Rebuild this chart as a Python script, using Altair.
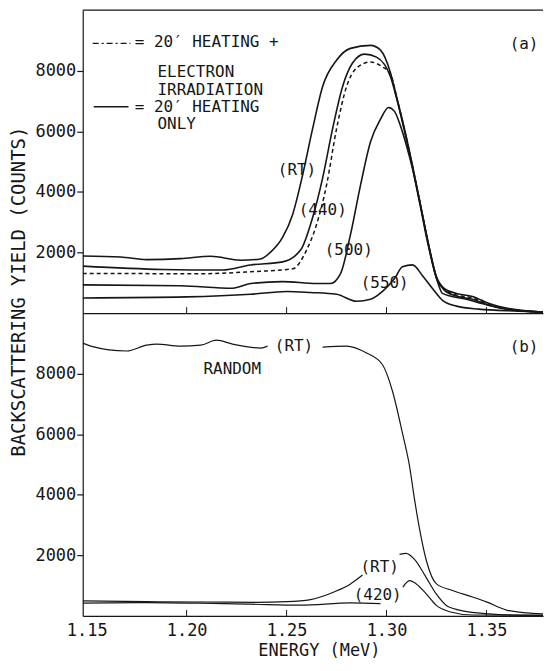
import altair as alt
import pandas as pd

FONT = "DejaVu Sans Mono"
INK = "#161616"

# ---------------- panel (a): aligned spectra after 20' heating ----------------
a_rt_e = [1.148, 1.167, 1.180, 1.197, 1.212, 1.227, 1.237, 1.242, 1.248, 1.253,
          1.258, 1.263, 1.268, 1.275, 1.282, 1.292, 1.297, 1.302, 1.305, 1.309,
          1.313, 1.317, 1.321, 1.325, 1.329, 1.335, 1.343, 1.351, 1.363, 1.371, 1.380]
a_rt_c = [1885, 1853, 1765, 1797, 1875, 1745, 1788, 2015, 2500, 3250,
          4550, 6080, 7475, 8350, 8740, 8840, 8680, 7930, 7150, 6080,
          4875, 3575, 2275, 1200, 810, 650, 550, 325, 130, 65, 30]

a_440_e = [1.148, 1.188, 1.218, 1.232, 1.248, 1.257, 1.263, 1.268, 1.273, 1.278,
           1.283, 1.289, 1.295, 1.302, 1.305, 1.309, 1.313, 1.317, 1.321, 1.325,
           1.329, 1.335, 1.343, 1.351, 1.363, 1.380]
a_440_c = [1550, 1440, 1420, 1590, 1690, 2080, 3150, 4450, 6080, 7475,
           8255, 8550, 8450, 7800, 7100, 6000, 4800, 3500, 2200, 1150,
           750, 560, 455, 260, 100, 30]

a_irr_e = [1.148, 1.207, 1.232, 1.253, 1.260, 1.265, 1.270, 1.275, 1.280, 1.285,
           1.292, 1.298, 1.302, 1.305, 1.309, 1.313, 1.317, 1.321, 1.325, 1.329,
           1.335, 1.343, 1.351, 1.363, 1.380]
a_irr_c = [1310, 1300, 1365, 1460, 2080, 2925, 4225, 6080, 7475, 8090,
           8290, 8125, 7900, 7150, 6050, 4850, 3550, 2250, 1180, 780,
           600, 500, 290, 110, 30]

a_500_e = [1.148, 1.197, 1.223, 1.232, 1.248, 1.265, 1.272, 1.277, 1.282, 1.287,
           1.292, 1.297, 1.301, 1.304, 1.307, 1.310, 1.313, 1.317, 1.321, 1.325,
           1.328, 1.340, 1.351, 1.365, 1.380]
a_500_c = [930, 900, 820, 975, 1040, 975, 975, 1300, 2600, 4225,
           5655, 6400, 6790, 6660, 6175, 5525, 4775, 3575, 2275, 1150,
           650, 455, 260, 90, 30]

a_550_e = [1.148, 1.200, 1.232, 1.250, 1.262, 1.275, 1.285, 1.292, 1.298, 1.304,
           1.308, 1.313, 1.318, 1.323, 1.328, 1.335, 1.346, 1.366, 1.380]
a_550_c = [500, 535, 620, 715, 680, 620, 390, 455, 715, 1140,
           1530, 1590, 1235, 810, 420, 230, 130, 65, 30]

# ---------------- panel (b): random and aligned spectra ----------------
b_rand1_e = [1.148, 1.152, 1.170, 1.180, 1.185, 1.197, 1.207, 1.215, 1.223, 1.237, 1.2405]
b_rand1_c = [9007, 8910, 8748, 8942, 8975, 8910, 8942, 9104, 8975, 8845, 8910]
b_rand2_e = [1.268, 1.280, 1.290, 1.298, 1.303, 1.308, 1.3115, 1.314, 1.3165, 1.320,
             1.325, 1.333, 1.343, 1.350, 1.360, 1.373, 1.380]
b_rand2_c = [8878, 8910, 8683, 8294, 7420, 6026, 4957, 3856, 2884, 1814,
             1058, 842, 626, 464, 194, 86, 65]

b_rt1_e = [1.148, 1.180, 1.210, 1.235, 1.250, 1.262, 1.274, 1.282, 1.288]
b_rt1_c = [500, 470, 460, 450, 470, 540, 800, 1058, 1350]
b_rt2_e = [1.3065, 1.3098, 1.314, 1.3198, 1.3248, 1.3298, 1.3364, 1.348, 1.363, 1.380]
b_rt2_c = [2031, 2063, 1868, 1274, 734, 356, 194, 86, 30, 20]

b_420_1_e = [1.148, 1.180, 1.207, 1.232, 1.257, 1.282, 1.297]
b_420_1_c = [421, 440, 421, 389, 356, 431, 410]
b_420_2_e = [1.3082, 1.3115, 1.3149, 1.3198, 1.3248, 1.3315, 1.3431, 1.380]
b_420_2_c = [950, 1166, 1058, 734, 356, 140, 32, 20]

# ---------------- annotations ----------------
a_lbl_text = ["(RT)", "(440)", "(500)", "(550)", "(a)"]
a_lbl_e = [1.2552, 1.2681, 1.2811, 1.2991, 1.3688]
a_lbl_c = [4712, 3412, 2080, 1007, 8872]

b_lbl_text = ["(RT)", "RANDOM", "(RT)", "(420)", "(b)"]
b_lbl_e = [1.2537, 1.2228, 1.2966, 1.2956, 1.3688]
b_lbl_c = [8910, 8165, 1604, 697, 8878]

leg_text = ["= 20\u2032 HEATING +", "ELECTRON", "IRRADIATION", "= 20\u2032 HEATING", "ONLY"]
leg_e = [1.1740, 1.1854, 1.1854, 1.1740, 1.1854]
leg_c = [8938, 7962, 7380, 6810, 6240]

leg_style = ["dashdot", "solid"]
leg_e1 = [1.1530, 1.1535]
leg_e2 = [1.1719, 1.1709]
leg_c_line = [8905, 6810]

x_ticks = [1.15, 1.20, 1.25, 1.30, 1.35]
inner_ticks = [1.20, 1.25, 1.30, 1.35]
y_ticks = [2000, 4000, 6000, 8000]

W, H = 462, 304
X_DOM = [1.148, 1.3783]
Y_DOM = [0, 10000]


def series(name, es, cs):
    return pd.DataFrame({"series": name, "E": es, "C": cs})


a_solid = pd.concat([series("RT", a_rt_e, a_rt_c), series("440", a_440_e, a_440_c),
                     series("500", a_500_e, a_500_c), series("550", a_550_e, a_550_c)])
a_dash = series("irr", a_irr_e, a_irr_c)
b_solid = pd.concat([series("rand1", b_rand1_e, b_rand1_c), series("rand2", b_rand2_e, b_rand2_c),
                     series("rt1", b_rt1_e, b_rt1_c), series("rt2", b_rt2_e, b_rt2_c),
                     series("420a", b_420_1_e, b_420_1_c), series("420b", b_420_2_e, b_420_2_c)])

xs = alt.Scale(domain=X_DOM, nice=False, zero=False)
ys = alt.Scale(domain=Y_DOM, nice=False)

ax_a = alt.Axis(labels=False, ticks=False, title="", grid=False, values=x_ticks,
                domainColor=INK, domainWidth=1.2)
ax_b = alt.Axis(values=x_ticks, format=".2f", ticks=False, labelPadding=7, grid=False,
                labelFontSize=17,
                title="ENERGY (MeV)", titleX=237, titleY=40, titleAlign="center",
                titleBaseline="alphabetic", titleFontWeight="normal", titleFontSize=17,
                domainColor=INK, domainWidth=1.2)
ay_a = alt.Axis(values=y_ticks, format="d", tickSize=6, labelPadding=1, grid=False,
                title="BACKSCATTERING YIELD (COUNTS)", titleX=-64, titleY=282,
                titleAngle=-90, titleAlign="center", titleBaseline="middle",
                titleFontWeight="normal", titleFontSize=19, domainColor=INK, domainWidth=1.2)
ay_b = alt.Axis(values=y_ticks, format="d", tickSize=6, labelPadding=1, grid=False,
                title="", domainColor=INK, domainWidth=1.2)


def tick_layer():
    return alt.Chart(pd.DataFrame({"E": inner_ticks})).mark_rule(color=INK, strokeWidth=1).encode(
        x=alt.X("E:Q", scale=xs), y=alt.value(H), y2=alt.value(H - 6))


# ---- panel (a) ----
pa_solid = alt.Chart(a_solid).mark_line(color=INK, strokeWidth=1.6, interpolate="monotone",
                                        clip=True).encode(
    x=alt.X("E:Q", scale=xs, axis=ax_a), y=alt.Y("C:Q", scale=ys, axis=ay_a), detail="series:N")
pa_dash = alt.Chart(a_dash).mark_line(color=INK, strokeWidth=1.5, strokeDash=[4, 3],
                                      interpolate="monotone", clip=True).encode(x="E:Q", y="C:Q")
pa_top = alt.Chart(pd.DataFrame({"C": [Y_DOM[1]]})).mark_rule(color=INK, strokeWidth=1.2).encode(
    y=alt.Y("C:Q", scale=ys))
pa_lbl = alt.Chart(pd.DataFrame({"E": a_lbl_e, "C": a_lbl_c, "t": a_lbl_text})).mark_text(
    font=FONT, fontSize=16, color=INK, align="center", baseline="middle").encode(
    x="E:Q", y="C:Q", text="t:N")
pa_leg_txt = alt.Chart(pd.DataFrame({"E": leg_e, "C": leg_c, "t": leg_text})).mark_text(
    font=FONT, fontSize=16, color=INK, align="left", baseline="middle").encode(
    x="E:Q", y="C:Q", text="t:N")
leg_df = pd.DataFrame({"s": leg_style, "E": leg_e1, "E2": leg_e2, "C": leg_c_line})
pa_leg_dd = alt.Chart(leg_df).transform_filter(alt.datum.s == "dashdot").mark_rule(
    color=INK, strokeWidth=1.5, strokeDash=[6, 3, 2, 3]).encode(x="E:Q", x2="E2:Q", y="C:Q")
pa_leg_so = alt.Chart(leg_df).transform_filter(alt.datum.s == "solid").mark_rule(
    color=INK, strokeWidth=1.6).encode(x="E:Q", x2="E2:Q", y="C:Q")

panel_a = alt.layer(pa_solid, pa_dash, pa_top, pa_lbl, pa_leg_txt, pa_leg_dd, pa_leg_so,
                    tick_layer()).properties(width=W, height=H)

# ---- panel (b) ----
pb_solid = alt.Chart(b_solid).mark_line(color=INK, strokeWidth=1.2, interpolate="monotone",
                                        clip=True).encode(
    x=alt.X("E:Q", scale=xs, axis=ax_b), y=alt.Y("C:Q", scale=ys, axis=ay_b), detail="series:N")
pb_lbl = alt.Chart(pd.DataFrame({"E": b_lbl_e, "C": b_lbl_c, "t": b_lbl_text})).mark_text(
    font=FONT, fontSize=16, color=INK, align="center", baseline="middle").encode(
    x="E:Q", y="C:Q", text="t:N")

panel_b = alt.layer(pb_solid, pb_lbl, tick_layer()).properties(width=W, height=H)

chart = alt.vconcat(panel_a, panel_b, spacing=0, bounds="flush").properties(
    padding={"left": 2, "top": 0, "right": 0, "bottom": 0},
    background="white",
).configure_view(stroke=None).configure_axis(
    labelFont=FONT, titleFont=FONT, labelFontSize=17, labelColor=INK, titleColor=INK,
    tickColor=INK, tickWidth=1.2,
)

chart.save("out.html", embed_options={"renderer": "svg", "actions": False})
